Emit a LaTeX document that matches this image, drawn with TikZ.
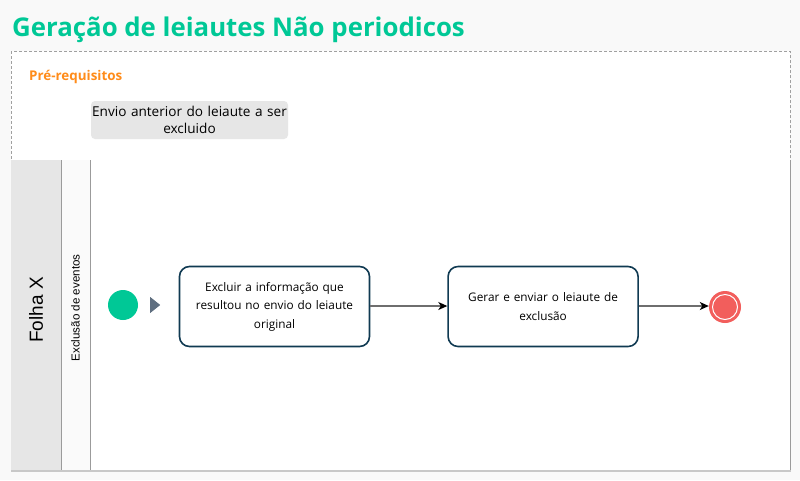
\documentclass[tikz,border=0pt]{standalone}
\usepackage{fontspec}
\setmainfont{Open Sans}
\newfontfamily\lanefont{Liberation Sans}
\usepackage{tikz}
\usetikzlibrary{arrows.meta,calc,positioning,backgrounds}

\begin{document}
\begin{tikzpicture} [
x=1pt, y=-1pt,
heading/.style   = { anchor=base west, inner sep=0pt, text=titlegreen,
    font=\fontsize{25.8}{30}\selectfont\bfseries },
prelabel/.style  = { anchor=base west, inner sep=0pt, text=preorange,
    font=\fontsize{13.4}{16}\selectfont\bfseries },
prereq/.style    = { rectangle, fill=prefill, rounded corners=4pt,
    minimum width=197, minimum height=38, text width=195pt, align=center,
    inner sep=0pt, font=\fontsize{13.6}{17}\selectfont },
pooltext/.style  = { rotate=90, inner sep=0pt, font=\lanefont\fontsize{19}{22}\selectfont },
lanetext/.style  = { rotate=90, inner sep=0pt, font=\lanefont\fontsize{11.6}{13}\selectfont },
task/.style      = { rectangle, draw=taskblue, line width=1.6pt, fill=white,
    rounded corners=10pt, minimum width=190, minimum height=80,
    text width=178pt, align=center, inner sep=0pt,
    font=\fontsize{11.8}{18.5}\selectfont },
startev/.style   = { circle, fill=startgreen, minimum size=30, inner sep=0pt },
endev/.style     = { circle, fill=endred, minimum size=32, inner sep=0pt },
flow/.style      = { draw=flowgray, line width=1.2pt,
    -{Stealth[length=9pt, width=8pt, inset=2.5pt, color=black]} },
]
\definecolor{pagegray}{RGB}{249,249,249}
\definecolor{titlegreen}{RGB}{0,200,150}
\definecolor{preorange}{RGB}{255,140,26}
\definecolor{prefill}{RGB}{230,230,230}
\definecolor{dashgray}{RGB}{160,160,160}
\definecolor{poolgray}{RGB}{230,230,230}
\definecolor{lanegray}{RGB}{250,250,250}
\definecolor{bordergray}{RGB}{155,155,155}
\definecolor{shadowgray}{RGB}{200,200,200}
\definecolor{taskblue}{RGB}{16,58,82}
\definecolor{startgreen}{RGB}{0,200,150}
\definecolor{endred}{RGB}{242,94,92}
\definecolor{flowgray}{RGB}{110,110,110}
\definecolor{hintgray}{RGB}{95,111,128}

% page
\fill[pagegray] (0,0) rectangle (800,480);
\useasboundingbox (0,0) rectangle (800,480);

% title
\node[heading] (title) at (12,36) {Geração de leiautes Não periodicos};

% pre-requisites area
\draw[dashgray, fill=white, dash pattern=on 3pt off 2pt] (11,51) rectangle (790,160);
\node[prelabel] (prelab) at (29,80) {Pré-requisitos};
\node[prereq] (prev) at (189.5,120) {Envio anterior do leiaute a ser\\excluido};

% pool and lane
\fill[poolgray] (11,160) rectangle (61,470);
\fill[lanegray] (61,160) rectangle (90,470);
\fill[white] (90,160) rectangle (790,470);
\draw[bordergray] (61,160) -- (61,470);
\draw[bordergray] (90,160) -- (90,470);
\draw[bordergray] (790,160) -- (790,470);
\draw[shadowgray, line width=2pt] (11,470.5) -- (791,470.5);
\node[pooltext] (pool) at (36,310) {Folha X};
\node[lanetext] (lane) at (75.5,308) {Exclusão de eventos};

% events and tasks
\node[startev] (start) at (123,305) {};
\node[task] (excl) at (274.5,306.5) {Excluir a informação que\\resultou no envio do leiaute\\original};
\node[task, right=77 of excl] (send) {Gerar e enviar o leiaute de\\exclusão};
\node[endev] (end) at (725,307) {};
\draw[white, line width=1pt] (end.center) circle (12.5);
\fill[hintgray] ($(start.east)+(12,-8)$) coordinate (hint) -- ++(10,8) -- ++(-10,8) -- cycle;

% connect all nodes defined above
\path[flow] (excl.east|-0,306) -- (send.west|-0,306);
\path[flow] (send.east|-0,306) -- (end.west|-0,306);

\end{tikzpicture}
\end{document}
